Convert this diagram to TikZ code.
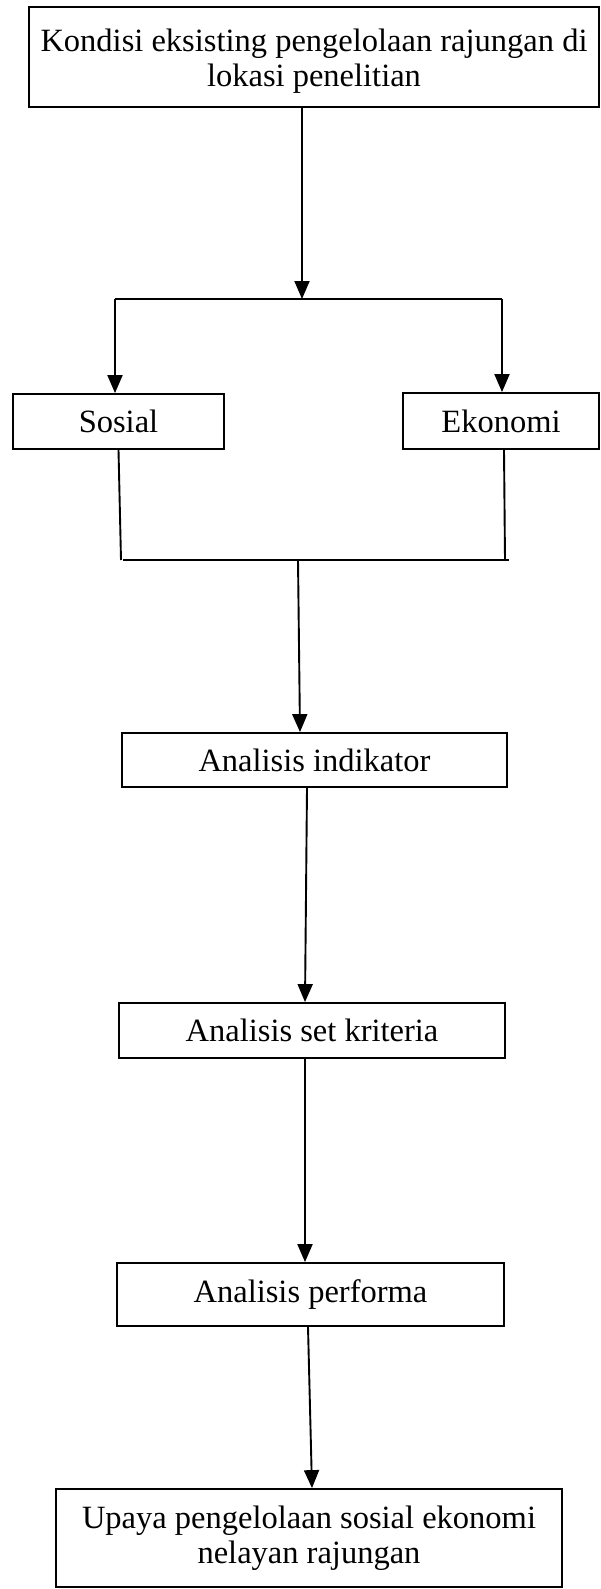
\documentclass[tikz,border=0pt]{standalone}
\usepackage{fontspec}
\setmainfont{Liberation Serif}
\usetikzlibrary{arrows.meta}
\begin{document}
\begin{tikzpicture}[x=1pt,y=-1pt]
  \tikzset{ b/.style={draw,line width=1.8pt,inner sep=0pt,align=center,
      font=\fontsize{32.5}{35}\selectfont},
    a/.style={line width=1.9pt,-{Triangle[width=15pt,length=18pt]}},
    l/.style={line width=1.9pt},
  }
  \useasboundingbox (0,0) rectangle (600,1589);
  \node[b,minimum width=570pt,minimum height=100pt] (kondisi) at (314,57)
    {\rule{0pt}{30pt}Kondisi eksisting pengelolaan rajungan di\\lokasi penelitian};
  \node[b,minimum width=211pt,minimum height=55pt] (sosial) at (118.5,421.5) {Sosial};
  \node[b,minimum width=196pt,minimum height=56pt] (ekonomi) at (501,421) {Ekonomi};
  \node[b,minimum width=385pt,minimum height=54pt] (indikator) at (314.5,760) {Analisis indikator};
  \node[b,minimum width=386pt,minimum height=55pt] (kriteria) at (312,1030.5) {Analisis set kriteria};
  \node[b,minimum width=387pt,minimum height=63pt] (performa) at (310.5,1294.5) {Analisis performa};
  \node[b,minimum width=506pt,minimum height=98pt] (upaya) at (309,1538)
    {Upaya pengelolaan sosial ekonomi\\nelayan rajungan};

  % split to sosial and ekonomi
  \coordinate (split) at (302,299);
  \coordinate (splitL) at (115,299);
  \coordinate (splitR) at (502,299);
  \draw[a] (kondisi.south -| split) -- (split);
  \draw[l] (splitL) -- (splitR);
  \draw[a] (splitL) -- (splitL |- sosial.north);
  \draw[a] (splitR) -- (splitR |- ekonomi.north);

  % join back
  \coordinate (joinL) at (121,560);
  \coordinate (joinR) at (505,560);
  \coordinate (join) at (298,560);
  \draw[l] (sosial.south) -- (joinL);
  \draw[l] ([xshift=3pt]ekonomi.south) -- (joinR);
  \draw[l] ([xshift=2pt]joinL) -- ([xshift=4pt]joinR);
  \draw[a] (join) -- ([xshift=-14.5pt]indikator.north);

  \draw[a] ([xshift=-7.5pt]indikator.south) -- ([xshift=-7pt]kriteria.north);
  \draw[a] ([xshift=-7pt]kriteria.south) -- ([xshift=-5.5pt]performa.north);
  \draw[a] ([xshift=-2.5pt]performa.south) -- ([xshift=3pt]upaya.north);
\end{tikzpicture}
\end{document}
